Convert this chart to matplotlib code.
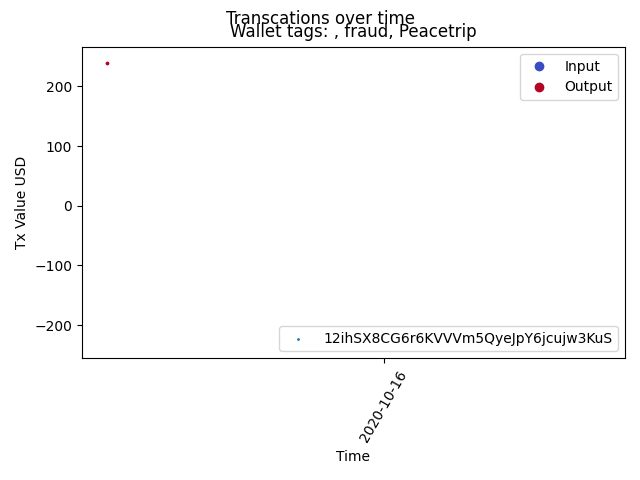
import matplotlib
matplotlib.use("Agg")
import matplotlib.pyplot as plt
import matplotlib.dates as mdates
from matplotlib.lines import Line2D
import numpy as np
import pandas as pd

# data
times = pd.to_datetime(["2020-10-15 14:00"])
values = [240]
directions = ["Output"]
wallet = "12ihSX8CG6r6KVVVm5QyeJpY6jcujw3KuS"
tick_dates = pd.to_datetime(["2020-10-16"])
tick_labels = ["2020-10-16"]
x_range = pd.to_datetime(["2020-10-15 13:06:30", "2020-10-16 08:41:30"])
y_range = [-255, 266]

cmap = plt.get_cmap("coolwarm")
dir_colors = {"Input": cmap(0.0), "Output": cmap(1.0)}

fig = plt.figure(figsize=(6.4, 4.8), dpi=100)
ax = fig.add_axes([82/640, 1-358/480, 543/640, 311/480])

ax.scatter(times, values, c=[dir_colors[d] for d in directions], s=3, zorder=3)
empty = ax.scatter([], [], s=1, color="#1f77b4", label=wallet)

ax.set_xlim(mdates.date2num(x_range[0]), mdates.date2num(x_range[1]))
ax.set_ylim(*y_range)
ax.set_xticks(mdates.date2num(tick_dates))
ax.set_xticklabels(tick_labels, rotation=60)

ax.set_xlabel("Time")
ax.set_ylabel("Tx Value USD")
ax.set_title("Wallet tags: , fraud, Peacetrip", pad=7)
fig.suptitle("Transcations over time", y=0.979)

handles = [Line2D([], [], marker="o", linestyle="", color=dir_colors[k], label=k)
           for k in ["Input", "Output"]]
leg1 = ax.legend(handles=handles, loc="upper right")
ax.add_artist(leg1)
ax.legend(handles=[empty], loc="lower right")

fig.savefig("out.png", dpi=100)
